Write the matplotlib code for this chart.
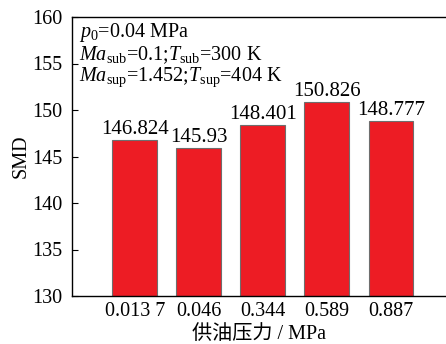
import matplotlib
matplotlib.use("Agg")
import matplotlib.pyplot as plt

pressures = ["0.013 7", "0.046", "0.344", "0.589", "0.887"]
smd = [146.824, 145.93, 148.401, 150.826, 148.777]
value_labels = ["146.824", "145.93", "148.401", "150.826", "148.777"]
yticks = [130, 135, 140, 145, 150, 155, 160]

plt.rcParams["font.family"] = ["Liberation Serif", "Noto Sans CJK SC"]
plt.rcParams["mathtext.fontset"] = "custom"
plt.rcParams["mathtext.rm"] = "Liberation Serif"
plt.rcParams["mathtext.it"] = "Liberation Serif:italic"

fig = plt.figure(figsize=(4.46, 3.44), dpi=100)
ax = fig.add_axes([72 / 446, 48 / 344, 1 - 72 / 446, (296 - 17) / 344])

x = list(range(len(pressures)))
ax.bar(x, [v - 130 for v in smd], bottom=130, width=0.7,
       color="#ED1C24", edgecolor="#6E6E6E", linewidth=0.8, zorder=2)
for xi, v, lab in zip(x, smd, value_labels):
    ax.text(xi, v + 0.1, lab, ha="center", va="bottom", fontsize=15)

ax.set_xlim(-0.98, 4.86)
ax.set_ylim(130, 160)
ax.set_xticks(x)
ax.set_xticklabels(pressures, fontsize=14.5)
ax.set_yticks(yticks)
ax.tick_params(axis="both", direction="in", labelsize=14.5, length=4, width=0.8)
ax.tick_params(axis="x", pad=4)
ax.tick_params(axis="y", pad=7)
ax.spines["right"].set_visible(False)
for s in ("left", "bottom", "top"):
    ax.spines[s].set_linewidth(1.0)

ax.set_ylabel("SMD", fontsize=14.5, labelpad=1)
ax.set_xlabel("供油压力 / MPa", fontsize=14.5, labelpad=3,
              family=["Liberation Serif", "Noto Sans CJK SC"])

info = ("$p_0$=0.04 MPa\n"
        "$Ma_{\\rm sub}$=0.1;$T_{\\rm sub}$=300 K\n"
        "$Ma_{\\rm sup}$=1.452;$T_{\\rm sup}$=404 K")
ax.text(0.02, 0.985, info, transform=ax.transAxes, ha="left", va="top",
        fontsize=14.5, linespacing=1.0)

fig.savefig("out.png", dpi=100)
